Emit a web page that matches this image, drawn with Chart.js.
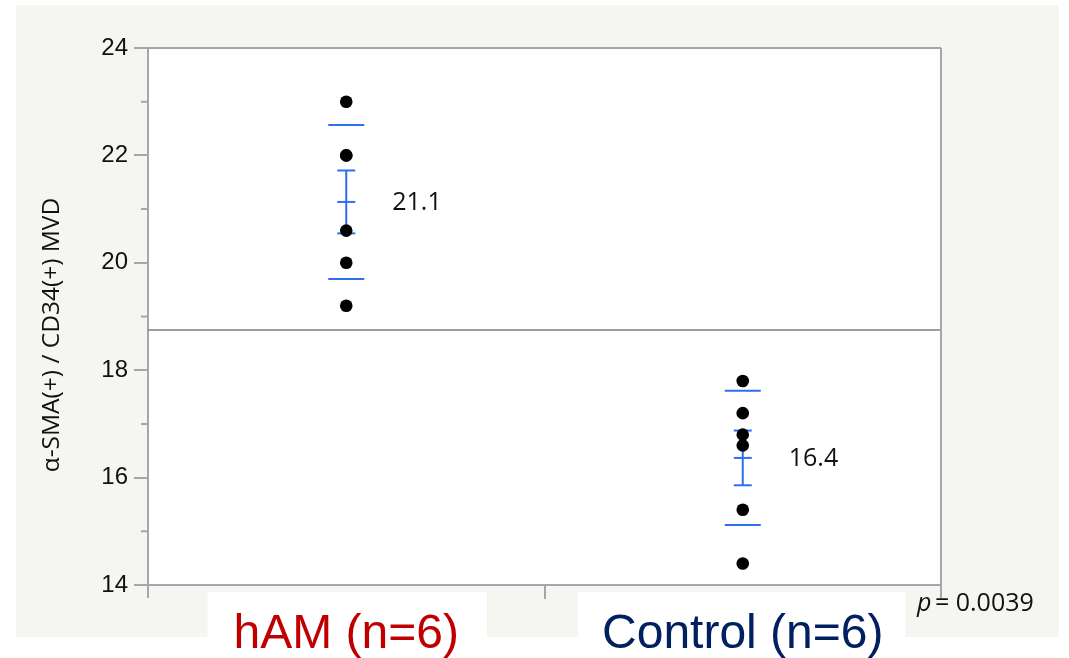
<!DOCTYPE html>
<html><head><meta charset="utf-8">
<script src="https://cdn.jsdelivr.net/npm/chart.js@4.4.1/dist/chart.umd.min.js"></script>
<style>html,body{margin:0;padding:0;background:#fff;} #wrap{width:1069px;height:658px;position:relative;}</style>
</head><body><div id="wrap"><canvas id="c" width="1069" height="658"></canvas></div>
<script>
// ---- data ----
const categories = ['hAM (n=6)', 'Control (n=6)'];
const categoryColors = ['#c00000', '#002060'];
const hamValues = [23.0, 22.0, 22.0, 20.6, 20.0, 19.2];
const controlValues = [17.8, 17.2, 16.8, 16.6, 15.4, 14.4];
const meanLabels = ['21.1', '16.4'];
const yTicks = [14, 16, 18, 20, 22, 24];
const yMinorTicks = [15, 17, 19, 21, 23];
const pValueText = ' = 0.0039';
const yTitle = 'α-SMA(+) / CD34(+) MVD';

const groups = [hamValues, controlValues];
function stats(a){
  const n=a.length, m=a.reduce((s,v)=>s+v,0)/n;
  const sd=Math.sqrt(a.reduce((s,v)=>s+(v-m)*(v-m),0)/(n-1));
  return {mean:m, sd:sd, se:sd/Math.sqrt(n)};
}
const allValues = hamValues.concat(controlValues);
const grandMean = allValues.reduce((s,v)=>s+v,0)/allValues.length;

const AXIS = '#a6a6a6';
const BLUE = '#2f6ef0';
const boxPad = [[26,28],[24,22]];

const deco = {
  id:'deco',
  beforeDraw(chart){
    const ctx=chart.ctx, a=chart.chartArea;
    ctx.save();
    ctx.fillStyle='#ffffff'; ctx.fillRect(0,0,chart.width,chart.height);
    ctx.fillStyle='rgb(245,246,241)'; ctx.fillRect(16,5,1043,632);
    ctx.fillStyle='#ffffff'; ctx.fillRect(a.left,a.top,a.right-a.left,a.bottom-a.top);
    // white boxes behind category labels
    const xs=chart.scales.x;
    ctx.font='48px "Liberation Sans", Arial, sans-serif';
    categories.forEach((c,i)=>{
      const cx=xs.getPixelForValue(i+0.5);
      const w=ctx.measureText(c).width;
      ctx.fillStyle='#ffffff';
      ctx.fillRect(cx-w/2-boxPad[i][0], a.bottom+7, w+boxPad[i][0]+boxPad[i][1], chart.height-(a.bottom+7));
    });
    ctx.restore();
  },
  beforeDatasetsDraw(chart){
    const ctx=chart.ctx, a=chart.chartArea, xs=chart.scales.x, ys=chart.scales.y;
    ctx.save();
    // grand mean line
    ctx.strokeStyle='#7f7f7f'; ctx.lineWidth=1.5;
    const gy=ys.getPixelForValue(grandMean);
    ctx.beginPath(); ctx.moveTo(a.left,gy); ctx.lineTo(a.right,gy); ctx.stroke();
    // mean / sd / se marks
    ctx.strokeStyle=BLUE; ctx.lineWidth=2;
    groups.forEach((g,i)=>{
      const s=stats(g), cx=xs.getPixelForValue(i+0.5);
      const h=(y,hw)=>{const p=ys.getPixelForValue(y);ctx.beginPath();ctx.moveTo(cx-hw,p);ctx.lineTo(cx+hw,p);ctx.stroke();};
      h(s.mean+s.sd,18); h(s.mean-s.sd,18);
      h(s.mean+s.se,9); h(s.mean-s.se,9); h(s.mean,9);
      ctx.beginPath(); ctx.moveTo(cx,ys.getPixelForValue(s.mean+s.se)); ctx.lineTo(cx,ys.getPixelForValue(s.mean-s.se)); ctx.stroke();
    });
    ctx.restore();
  },
  afterDraw(chart){
    const ctx=chart.ctx, a=chart.chartArea, xs=chart.scales.x, ys=chart.scales.y;
    ctx.save();
    ctx.strokeStyle=AXIS; ctx.lineWidth=2;
    ctx.beginPath();
    ctx.moveTo(a.left-14,a.top); ctx.lineTo(a.right,a.top);
    ctx.moveTo(a.right,a.top); ctx.lineTo(a.right,a.bottom+13);
    ctx.moveTo(a.left,a.bottom); ctx.lineTo(a.left,a.bottom+13);
    yMinorTicks.forEach(v=>{const p=ys.getPixelForValue(v); ctx.moveTo(a.left-7,p); ctx.lineTo(a.left,p);});
    ctx.stroke();
    // y title
    ctx.fillStyle='#111';
    ctx.translate(52,335); ctx.rotate(-Math.PI/2);
    ctx.font='24.5px "Open Sans", sans-serif'; ctx.textAlign='center'; ctx.textBaseline='middle';
    ctx.fillText(yTitle,0,0);
    ctx.setTransform(1,0,0,1,0,0);
    // mean labels
    ctx.font='25px "Open Sans", sans-serif'; ctx.textAlign='left'; ctx.textBaseline='middle';
    groups.forEach((g,i)=>{
      const s=stats(g), cx=xs.getPixelForValue(i+0.5);
      ctx.fillText(meanLabels[i], cx+46, ys.getPixelForValue(s.mean)+1);
    });
    // p value
    ctx.font='italic 25px "Open Sans", sans-serif';
    ctx.fillText('p', 917, 604);
    const pw=ctx.measureText('p').width;
    ctx.font='25px "Open Sans", sans-serif';
    ctx.fillText(pValueText, 917+pw-3, 604);
    // category labels
    ctx.font='48px "Liberation Sans", Arial, sans-serif'; ctx.textAlign='center'; ctx.textBaseline='alphabetic';
    categories.forEach((c,i)=>{
      ctx.fillStyle=categoryColors[i];
      ctx.fillText(c, xs.getPixelForValue(i+0.5), 648);
    });
    ctx.restore();
  }
};

new Chart(document.getElementById('c'), {
  type:'scatter',
  data:{ datasets: groups.map((g,i)=>({
    label:categories[i],
    data:g.map(v=>({x:i+0.5,y:v})),
    pointRadius:6.3, pointHoverRadius:6.3,
    backgroundColor:'#000', borderColor:'#000', borderWidth:0
  }))},
  options:{
    responsive:false, animation:false, devicePixelRatio:1,
    layout:{padding:{left:0,top:48,right:128,bottom:0}},
    plugins:{legend:{display:false}, tooltip:{enabled:false}},
    scales:{
      x:{type:'linear', min:0, max:2, position:'bottom',
        afterBuildTicks:s=>{s.ticks=[{value:1}];},
        afterFit:s=>{s.height=73;},
        ticks:{callback:()=>'', padding:0},
        grid:{drawOnChartArea:false, tickLength:14, color:AXIS, lineWidth:2},
        border:{color:AXIS, width:2}},
      y:{min:14, max:24,
        afterBuildTicks:s=>{s.ticks=yTicks.map(v=>({value:v}));},
        afterFit:s=>{s.width=148;},
        ticks:{font:{family:'"Liberation Sans", Arial, sans-serif', size:24}, color:'#111', padding:6},
        grid:{drawOnChartArea:false, tickLength:14, color:AXIS, lineWidth:2},
        border:{color:AXIS, width:2}}
    }
  },
  plugins:[deco]
});
</script></body></html>
